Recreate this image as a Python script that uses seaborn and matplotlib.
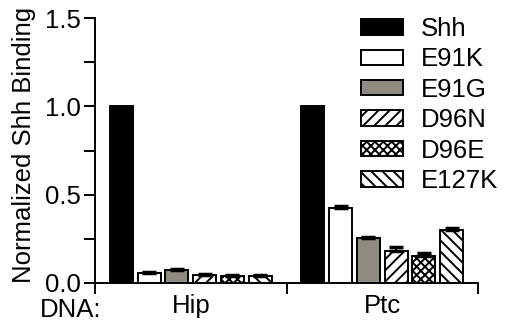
import matplotlib
matplotlib.use("Agg")
import matplotlib.pyplot as plt
import seaborn as sns
import pandas as pd
import numpy as np

dna = ["Hip", "Ptc"]
variants = ["Shh", "E91K", "E91G", "D96N", "D96E", "E127K"]
hip_vals = [1.0, 0.058, 0.073, 0.047, 0.040, 0.040]
hip_err = [0.0, 0.003, 0.004, 0.003, 0.006, 0.005]
ptc_vals = [1.0, 0.425, 0.255, 0.183, 0.152, 0.298]
ptc_err = [0.0, 0.010, 0.006, 0.022, 0.015, 0.015]

colors = ["#000000", "#ffffff", "#8f8b80", "#ffffff", "#ffffff", "#ffffff"]
hatches = [None, None, None, "///", "xxxx", "\\\\\\"]

sns.set_style("ticks")
plt.rcParams["font.family"] = ["Liberation Sans", "DejaVu Sans"]
plt.rcParams["hatch.linewidth"] = 1.4
plt.rcParams["hatch.color"] = "black"
for k in ["text.color", "axes.labelcolor", "xtick.color", "ytick.color", "axes.edgecolor"]:
    plt.rcParams[k] = "black"

rows = []
for i, v in enumerate(variants):
    rows.append({"DNA": "Hip", "Variant": v, "Value": hip_vals[i], "Err": hip_err[i]})
    rows.append({"DNA": "Ptc", "Variant": v, "Value": ptc_vals[i], "Err": ptc_err[i]})
df = pd.DataFrame(rows)

FS = 18.5

fig = plt.figure(figsize=(5.09, 3.25), dpi=100)
ax = fig.add_axes([95 / 509, 1 - 283 / 325, (478 - 95) / 509, (283 - 18) / 325])

sns.barplot(data=df, x="DNA", y="Value", hue="Variant", order=dna, hue_order=variants,
            palette=colors, width=0.87, gap=0.17, errorbar=None, edgecolor="black",
            linewidth=1.4, ax=ax, legend=False)

bar_containers = list(ax.containers)
for ci, cont in enumerate(bar_containers):
    for bi, p in enumerate(cont.patches):
        p.set_facecolor(colors[ci])
        p.set_edgecolor("black")
        if hatches[ci]:
            p.set_hatch(hatches[ci])
        errs = [hip_err, ptc_err][bi]
        vals = [hip_vals, ptc_vals][bi]
        if errs[ci] > 0:
            xc = p.get_x() + p.get_width() / 2
            ax.errorbar([xc], [vals[ci]], yerr=[[0], [errs[ci]]], fmt="none",
                        ecolor="black", elinewidth=1.4, capsize=5, capthick=2.5, zorder=3)

ax.set_xlim(-0.5, 1.5)
ax.set_ylim(0, 1.5)
ax.set_yticks([0, 0.5, 1.0, 1.5])
ax.set_yticklabels(["0.0", "0.5", "1.0", "1.5"])
ax.set_yticks([0.25, 0.75, 1.25], minor=True)
ax.set_xticks([0, 1])
ax.set_xticklabels(dna)
ax.set_xticks([-0.5, 0.5, 1.5], minor=True)
ax.tick_params(axis="x", which="major", length=0, labelsize=FS, pad=8)
ax.tick_params(axis="x", which="minor", length=8, width=1.4, direction="out")
ax.tick_params(axis="y", which="both", length=8, width=1.4, labelsize=FS, pad=2)
for s in ["top", "right"]:
    ax.spines[s].set_visible(False)
for s in ["left", "bottom"]:
    ax.spines[s].set_linewidth(1.4)
ax.set_xlabel("")
ax.set_ylabel("Normalized Shh Binding", fontsize=FS, va="center")
ax.yaxis.set_label_coords(-0.185, 0.52)

fig.text(40 / 509, 1 - 310 / 325, "DNA:", fontsize=FS, va="center", ha="left")

handles = [plt.Rectangle((0, 0), 1, 1, facecolor=colors[i], edgecolor="black",
                         linewidth=1.4, hatch=hatches[i]) for i in range(len(variants))]
fig.legend(handles, variants, loc="upper left", bbox_to_anchor=(361 / 509, 1 - 17 / 325),
           frameon=False, fontsize=FS, handlelength=1.63, handleheight=0.55,
           handletextpad=0.7, labelspacing=0.25, borderpad=0, borderaxespad=0)

fig.savefig("out.png", dpi=100)
